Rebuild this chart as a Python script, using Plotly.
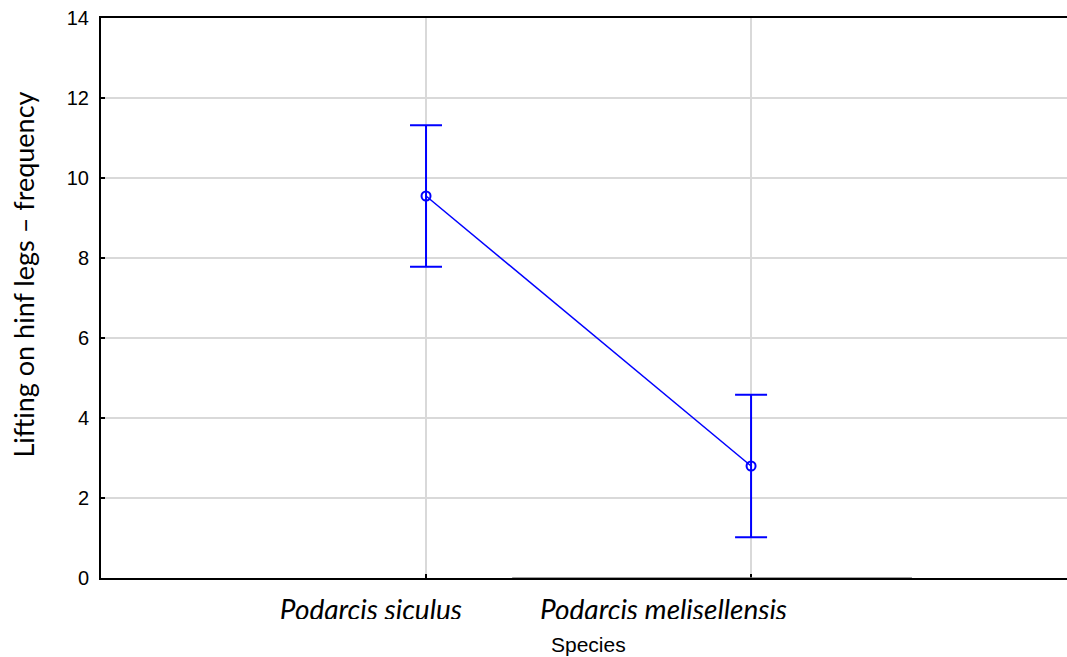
import plotly.graph_objects as go

# data
species = ['Podarcis siculus', 'Podarcis melisellensis']
means = [9.55, 2.80]
errors = [1.77, 1.78]

y_ticks = [0, 2, 4, 6, 8, 10, 12, 14]

blue = '#0000ff'
grid = '#d9d9d9'

fig = go.Figure()

fig.add_trace(go.Scatter(
    x=species,
    y=means,
    mode='lines+markers',
    line=dict(color=blue, width=1.5),
    marker=dict(symbol='circle-open', size=9, color=blue, line=dict(width=2)),
    error_y=dict(type='data', array=errors, color=blue, thickness=2, width=16),
    showlegend=False,
))

fig.update_xaxes(
    type='category',
    range=[-1, 1.972],
    showgrid=True, gridcolor=grid, gridwidth=2,
    showline=True, linecolor='black', linewidth=2, mirror=True,
    ticks='inside', ticklen=4, tickcolor='black', tickwidth=2,
    ticklabelposition='outside left', ticklabelshift=38, ticklabelstandoff=6,
    tickfont=dict(family='Lato', size=28, color='black', style='italic'),
)

fig.update_yaxes(
    range=[0, 14],
    tickvals=y_ticks,
    showgrid=True, gridcolor=grid, gridwidth=2,
    zeroline=False,
    showline=True, linecolor='black', linewidth=2,
    ticks='inside', ticklen=4, tickcolor='black', tickwidth=2,
    ticklabelstandoff=6, ticklabeloverflow='allow',
    tickfont=dict(family='Arial', size=20, color='black'),
)

# grey middle stretch of the bottom axis line, as in the original
fig.add_shape(type='line', xref='x', yref='y', x0=0.265, x1=1.495, y0=0, y1=0,
              line=dict(color='#808080', width=1.5), layer='above')

# white band that trims the bottom of the category labels
fig.add_shape(type='rect', xref='paper', yref='paper', x0=-0.2, x1=1.1,
              y0=-0.0732, y1=-0.3, line=dict(width=0), fillcolor='white',
              layer='above')

fig.add_annotation(text='Species', xref='paper', yref='paper',
                   x=0.5047, y=-0.1196, xanchor='center', yanchor='middle',
                   showarrow=False, font=dict(family='Arial', size=21, color='black'))

fig.add_annotation(text='Lifting on hinf legs \u2013 frequency', xref='paper', yref='paper',
                   x=-0.0807, y=0.542, xanchor='center', yanchor='middle', textangle=-90,
                   showarrow=False, font=dict(family='Lato', size=27, color='black'))

fig.update_layout(
    width=1067, height=657,
    margin=dict(l=101, r=0, t=18, b=79),
    plot_bgcolor='white',
    paper_bgcolor='white',
)

# drop the default page margin so the figure sits flush in the window
fig.write_html('out.html', config={'displayModeBar': False},
               post_script="document.body.style.margin='0';")
